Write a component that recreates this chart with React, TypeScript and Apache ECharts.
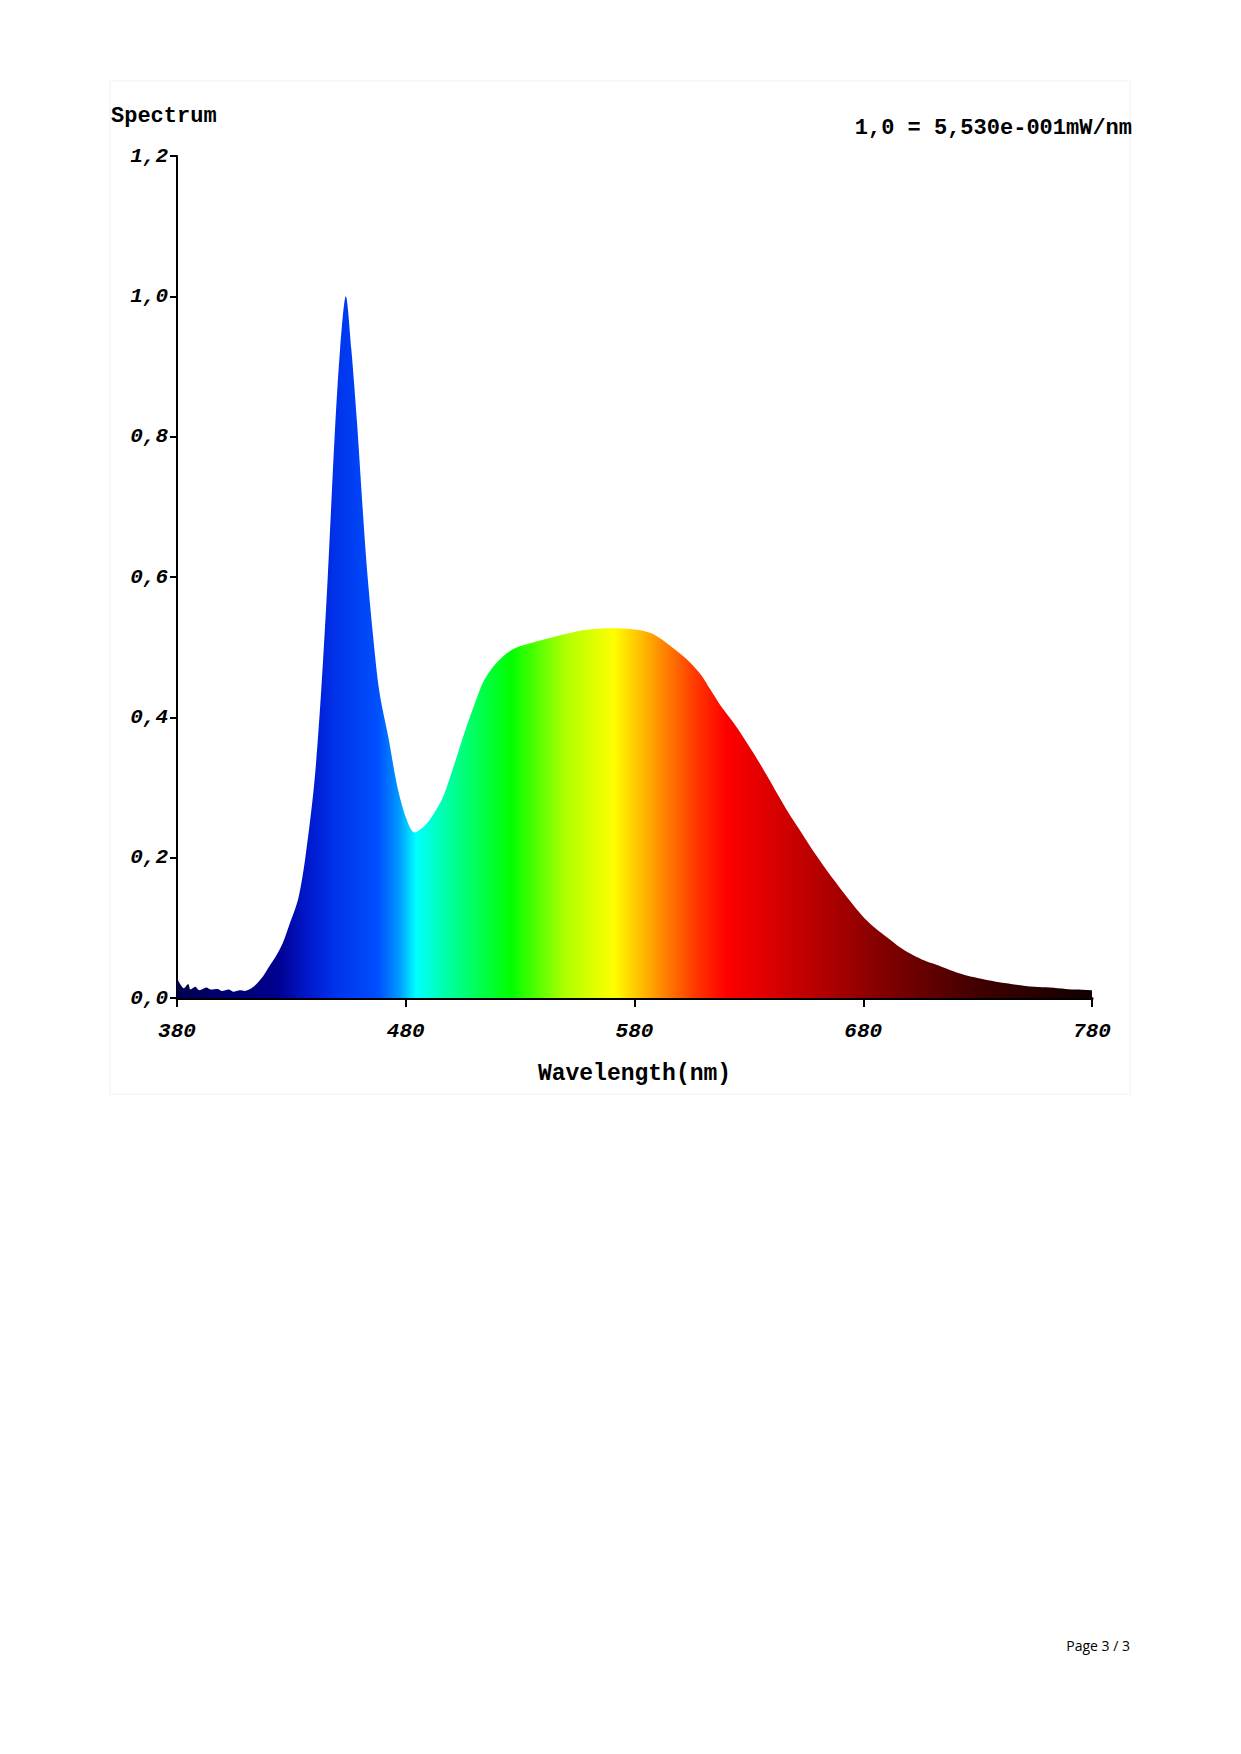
import React, { useEffect, useRef } from "react";
import * as echarts from "echarts";

const wavelengths = [
  380, 381, 383, 384.9, 385.9, 387.9, 389.8, 392.8, 394.8, 397.7, 399.7, 402.6, 404.6, 407.5, 409.5, 413.4, 417.4, 420.3, 423.3, 426.2,
  429.2, 433.1, 436.1, 440.0, 443.0, 445.9, 448.9, 451.3, 453.8, 456.2, 458.7, 462.6, 465.6, 468.5, 472.5, 476.4, 480.3, 483.8, 488.2, 492.1,
  496.1, 499.0, 502.9, 506.9, 510.8, 513.8, 517.7, 521.6, 527.5, 538.4, 550.2, 559.0, 571.8, 582.6, 588.5, 594.4, 600.3, 604.3, 609.2, 613.1,
  618.0, 622.9, 627.9, 632.8, 637.7, 642.6, 647.5, 652.5, 657.4, 662.3, 667.2, 672.1, 677.0, 682.0, 686.9, 691.8, 695.7, 700.7, 705.6, 710.5,
  715.4, 720.3, 725.2, 732.1, 740.0, 746.9, 754.8, 761.6, 768.5, 773.4, 780,
];

const intensity = [
  0.03, 0.022, 0.014, 0.02, 0.012, 0.016, 0.011, 0.015, 0.012, 0.013, 0.01, 0.012, 0.009, 0.011, 0.01, 0.016, 0.03, 0.045, 0.06, 0.078,
  0.105, 0.143, 0.2, 0.306, 0.436, 0.6, 0.8, 0.925, 1.0, 0.925, 0.82, 0.63, 0.52, 0.436, 0.37, 0.3, 0.255, 0.236, 0.245, 0.262,
  0.285, 0.311, 0.35, 0.39, 0.425, 0.45, 0.47, 0.484, 0.498, 0.509, 0.519, 0.525, 0.527, 0.524, 0.518, 0.505, 0.49, 0.478, 0.46, 0.44,
  0.415, 0.394, 0.37, 0.345, 0.318, 0.29, 0.263, 0.238, 0.213, 0.19, 0.168, 0.147, 0.127, 0.109, 0.095, 0.083, 0.073, 0.063, 0.055, 0.049,
  0.043, 0.037, 0.032, 0.027, 0.022, 0.019, 0.016, 0.015, 0.013, 0.012, 0.011,
];

const titleText = "Spectrum";
const scaleText = "1,0 = 5,530e-001mW/nm";
const xAxisTitle = "Wavelength(nm)";
const pageText = "Page 3 / 3";

// spectral colour stops (wavelength nm -> colour)
const spectrumStops: [number, string][] = [
  [380, "#000050"],
  [424, "#000090"],
  [437, "#0018cc"],
  [450, "#0034ec"],
  [468, "#0050ff"],
  [477, "#0098ff"],
  [484.5, "#00ffff"],
  [500, "#00ff99"],
  [526, "#00ff00"],
  [550, "#b0ff00"],
  [571, "#ffff00"],
  [588, "#ffa000"],
  [605, "#ff4000"],
  [620, "#ff0000"],
  [650, "#c80000"],
  [690, "#800000"],
  [730, "#400000"],
  [780, "#100000"],
];

const MONO = "'Liberation Mono', 'DejaVu Sans Mono', monospace";

export default function App() {
  const ref = useRef<HTMLDivElement>(null);

  useEffect(() => {
    if (!ref.current) return;
    const chart = echarts.init(ref.current, null, { renderer: "svg" });
    const xmin = 380;
    const xmax = 780;
    const gradient = new echarts.graphic.LinearGradient(
      0,
      0,
      1,
      0,
      spectrumStops.map(([nm, c]) => ({ offset: (nm - xmin) / (xmax - xmin), color: c }))
    );

    chart.setOption({
      animation: false,
      backgroundColor: "#ffffff",
      grid: { left: 177, right: 149, top: 156, bottom: 1754 - 998, containLabel: false },
      xAxis: {
        type: "value",
        min: xmin,
        max: xmax,
        interval: 100,
        name: xAxisTitle,
        nameLocation: "middle",
        nameGap: 64,
        nameTextStyle: { fontFamily: MONO, fontSize: 23, fontWeight: "bold", color: "#000" },
        axisLine: { show: true, lineStyle: { color: "#000", width: 3 } },
        axisTick: { show: true, length: 9, lineStyle: { color: "#000", width: 2 } },
        axisLabel: {
          fontFamily: MONO,
          fontSize: 21,
          fontStyle: "italic",
          fontWeight: "bold",
          color: "#000",
          margin: 23,
          formatter: (v: number) => String(v),
        },
        splitLine: { show: false },
      },
      yAxis: {
        type: "value",
        min: 0,
        max: 1.2,
        interval: 0.2,
        axisLine: { show: true, lineStyle: { color: "#000", width: 2 } },
        axisTick: { show: true, length: 7, lineStyle: { color: "#000", width: 2 } },
        axisLabel: {
          fontFamily: MONO,
          fontSize: 21,
          fontWeight: "bold",
          fontStyle: "italic",
          color: "#000",
          margin: 9,
          formatter: (v: number) => v.toFixed(1).replace(".", ","),
        },
        splitLine: { show: false },
      },
      series: [
        {
          type: "line",
          data: wavelengths.map((w, i) => [w, intensity[i]]),
          showSymbol: false,
          smooth: 0.3,
          lineStyle: { width: 0, opacity: 0 },
          areaStyle: { color: gradient, opacity: 1 },
          z: 1,
        },
      ],
      graphic: [
        {
          type: "rect",
          shape: { x: 110, y: 81, width: 1020, height: 1013 },
          style: { fill: "none", stroke: "#f0f0f0", lineWidth: 1 },
          silent: true,
          z: -1,
        },
        {
          type: "text",
          x: 111,
          y: 116,
          style: {
            text: titleText,
            font: `bold 22px ${MONO}`,
            fill: "#000",
            textAlign: "left",
            textVerticalAlign: "middle",
          },
        },
        {
          type: "text",
          x: 1132,
          y: 128,
          style: {
            text: scaleText,
            font: `bold 22px ${MONO}`,
            fill: "#000",
            textAlign: "right",
            textVerticalAlign: "middle",
          },
        },
        {
          type: "text",
          x: 1130,
          y: 1645,
          style: {
            text: pageText,
            font: "14px 'Open Sans', 'Liberation Sans', sans-serif",
            fill: "#000",
            textAlign: "right",
            textVerticalAlign: "middle",
          },
        },
      ],
    });
    return () => chart.dispose();
  }, []);

  return (
    <div
      ref={ref}
      style={{ position: "absolute", left: 0, top: 0, width: 1241, height: 1754, background: "#fff" }}
    />
  );
}
